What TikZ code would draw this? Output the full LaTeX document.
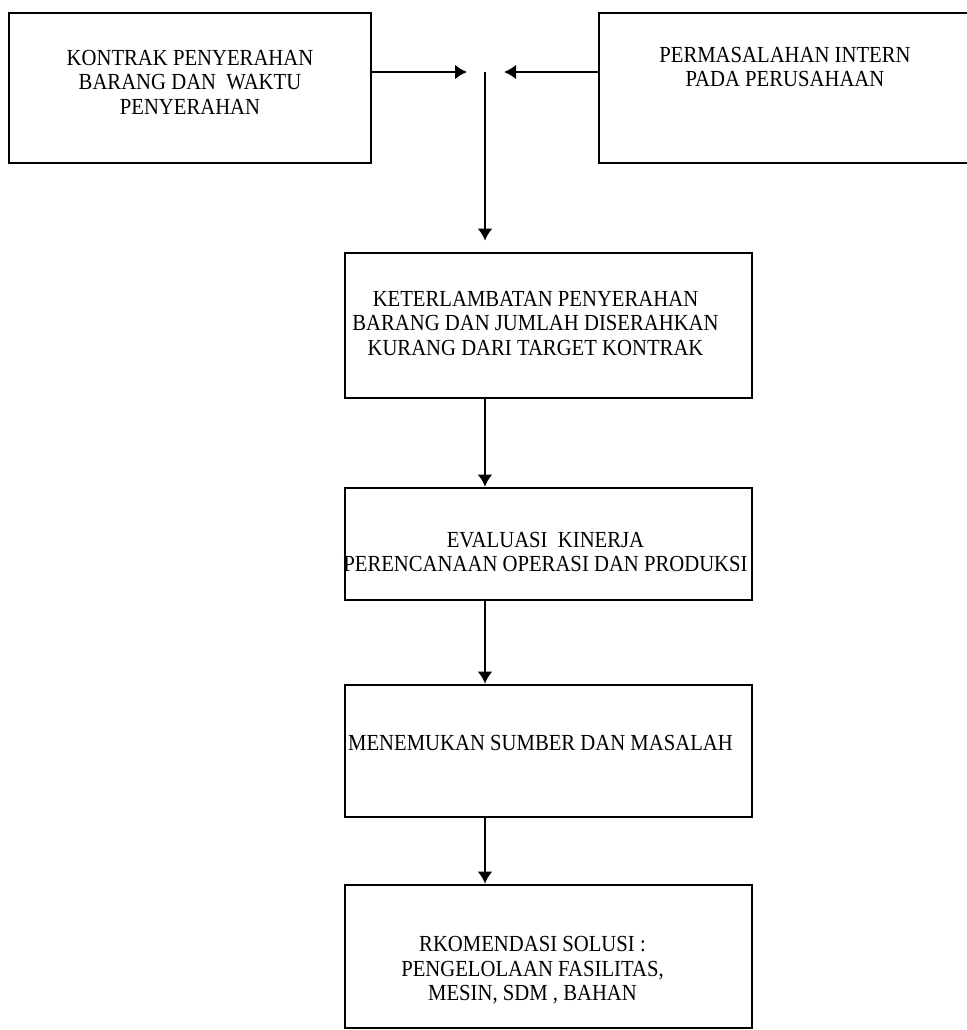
\documentclass[tikz,border=0pt]{standalone}
\usepackage{fontspec}
\setmainfont{Liberation Serif}[FakeStretch=0.9]
\usetikzlibrary{calc,arrows.meta,positioning}
\tikzset{
    kotak/.style={rectangle,draw,line width=2.8pt,inner sep=0pt,minimum width=407pt},
    teks/.style={align=center,draw=none,fill=none,inner sep=0pt,font=\fontsize{23}{24.5}\selectfont},
    flecha/.style={draw,line width=2.8pt,-{Latex[length=12pt,width=15pt]}},
    garis/.style={draw,line width=2.4pt},
}
\begin{document}
\begin{tikzpicture}[x=1pt,y=-1pt]
\useasboundingbox (0,0) rectangle (966,1030);

\node[kotak,minimum width=362pt,minimum height=150pt] (kontrak) at (190,88) {};
\node[teks] (tkontrak) at ($(kontrak.center)+(0,-6)$) {KONTRAK PENYERAHAN\\BARANG DAN\ \ WAKTU\\PENYERAHAN};

\node[kotak,minimum width=372pt,minimum height=150pt] (intern) at (785,88) {};
\node[teks] (tintern) at ($(intern.center)+(0,-21)$) {PERMASALAHAN INTERN\\PADA PERUSAHAAN};

\node[kotak,minimum height=145pt] (lambat) at (548.5,325.5) {};
\node[teks] (tlambat) at ($(lambat.center)+(-13,-2)$) {KETERLAMBATAN PENYERAHAN\\BARANG DAN JUMLAH DISERAHKAN\\KURANG DARI TARGET KONTRAK};

\node[kotak,minimum height=112pt] (evaluasi) at (548.5,544) {};
\node[teks] (tevaluasi) at ($(evaluasi.center)+(-3,8)$) {EVALUASI\ \ KINERJA\\PERENCANAAN OPERASI DAN PRODUKSI};

\node[kotak,minimum height=132pt] (sumber) at (548.5,751) {};
\node[teks] (tsumber) at ($(sumber.center)+(-8,-8)$) {MENEMUKAN SUMBER DAN MASALAH};

\node[kotak,minimum height=143pt] (solusi) at (548.5,956.5) {};
\node[teks] (tsolusi) at ($(solusi.center)+(-16,14)$) {RKOMENDASI SOLUSI :\\PENGELOLAAN FASILITAS,\\MESIN, SDM , BAHAN};

% titik pertemuan
\coordinate (junta) at (485,72);
\coordinate (juntaL) at ($(junta)+(-18,0)$);
\coordinate (juntaR) at ($(junta)+(19,0)$);
\coordinate (juntaB) at ($(lambat.north -| junta)+(0,-11)$);

\draw[flecha] (kontrak.east |- junta) -- (juntaL);
\draw[flecha] (intern.west |- junta) -- (juntaR);
\draw[flecha,line width=2.4pt] (junta) -- (juntaB);

\draw[flecha] (lambat.south -| junta) -- (evaluasi.north -| junta);
\draw[flecha] (evaluasi.south -| junta) -- (sumber.north -| junta);
\draw[flecha] (sumber.south -| junta) -- (solusi.north -| junta);
\end{tikzpicture}
\end{document}
